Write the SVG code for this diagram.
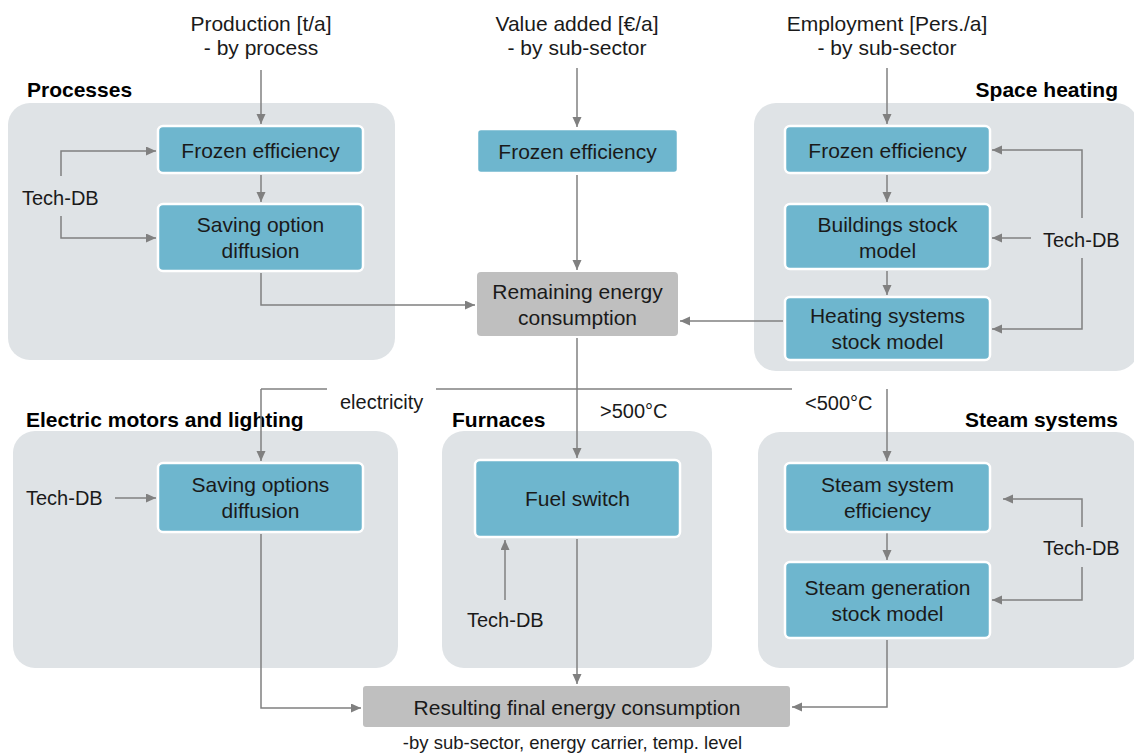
<svg xmlns="http://www.w3.org/2000/svg" width="1134" height="756" viewBox="0 0 1134 756">
<defs>
<marker id="ah" markerUnits="userSpaceOnUse" markerWidth="12" markerHeight="10" refX="10" refY="4.5" orient="auto"><path d="M0,0 L10,4.5 L0,9 z" fill="#808080"/></marker>
<style>
.panel{fill:#dfe3e6}
.box{fill:#6eb6ce;stroke:#fff;stroke-width:2.5}
.gbox{fill:#bfbfbf}
.t{font-family:"Liberation Sans",Arial,sans-serif;font-size:21px;fill:#1a1a1a;text-anchor:middle}
.tl{font-family:"Liberation Sans",Arial,sans-serif;font-size:20px;fill:#1a1a1a}
.h{font-family:"Liberation Sans",Arial,sans-serif;font-size:21px;font-weight:bold;fill:#000}
.s{font-family:"Liberation Sans",Arial,sans-serif;font-size:18.5px;fill:#1a1a1a;text-anchor:middle}
.c{fill:none;stroke:#808080;stroke-width:1.5}
.a{marker-end:url(#ah)}
</style>
</defs>
<rect width="1134" height="756" fill="#fff"/>
<g id="panel-processes"><rect class="panel" x="8" y="103" width="387" height="257" rx="22"/><text class="h" x="27" y="97">Processes</text></g>
<g id="panel-space-heating"><rect class="panel" x="754" y="103" width="384" height="268" rx="22"/><text class="h" x="1118" y="97" text-anchor="end">Space heating</text></g>
<g id="panel-electric"><rect class="panel" x="13" y="431" width="385" height="237" rx="22"/><text class="h" x="26" y="427">Electric motors and lighting</text></g>
<g id="panel-furnaces"><rect class="panel" x="442" y="431" width="270" height="237" rx="22"/><text class="h" x="452" y="427">Furnaces</text></g>
<g id="panel-steam"><rect class="panel" x="758" y="432" width="380" height="236" rx="22"/><text class="h" x="1118" y="427" text-anchor="end">Steam systems</text></g>

<g id="connectors">
<path class="c a" d="M261,70 V124"/>
<path class="c a" d="M261,175 V202"/>
<path class="c a" d="M61,176 V151 H156"/>
<path class="c a" d="M61,216 V238 H156"/>
<path class="c a" d="M261,273 V305 H475"/>
<path class="c a" d="M577,68 V127"/>
<path class="c a" d="M577,175 V270"/>
<path class="c a" d="M887,68 V124"/>
<path class="c a" d="M887,175 V202"/>
<path class="c a" d="M887,271 V295"/>
<path class="c a" d="M1082,218 V150 H992"/>
<path class="c a" d="M1082,258 V329 H992"/>
<path class="c a" d="M1031,238 H992"/>
<path class="c a" d="M783,321 H680"/>
<path class="c a" d="M577,338 V458"/>
<path class="c" d="M327,389 H261"/>
<path class="c a" d="M261,389 V461"/>
<path class="c" d="M436,389 H792"/>
<path class="c a" d="M887,389 V461"/>
<path class="c a" d="M115,498 H156"/>
<path class="c a" d="M261,534 V708 H361"/>
<path class="c a" d="M505,600 V540"/>
<path class="c a" d="M577,539 V684"/>
<path class="c a" d="M887,533 V560"/>
<path class="c a" d="M1082,527 V499 H1003"/>
<path class="c a" d="M1082,567 V600 H992"/>
<path class="c a" d="M887,640 V707 H792"/>
</g>

<g id="input-production"><text class="t" x="261" y="31">Production [t/a]</text><text class="t" x="261" y="55">- by process</text></g>
<g id="input-value-added"><text class="t" x="577" y="31">Value added [€/a]</text><text class="t" x="577" y="55">- by sub-sector</text></g>
<g id="input-employment"><text class="t" x="887" y="31">Employment [Pers./a]</text><text class="t" x="887" y="55">- by sub-sector</text></g>

<g id="p-frozen"><rect class="box" x="158" y="126" width="205" height="47" rx="5"/><text class="t" x="260.5" y="158">Frozen efficiency</text></g>
<g id="p-saving"><rect class="box" x="158" y="204" width="205" height="67" rx="5"/><text class="t" x="260.5" y="232">Saving option</text><text class="t" x="260.5" y="258">diffusion</text></g>
<g id="p-techdb"><text class="tl" x="22" y="205">Tech-DB</text></g>

<g id="m-frozen"><rect class="box" x="477" y="129" width="201" height="44" rx="4" stroke="none"/><text class="t" x="577.5" y="159">Frozen efficiency</text></g>
<g id="remaining"><rect class="gbox" x="477" y="272" width="201" height="64" rx="4"/><text class="t" x="577.5" y="299">Remaining energy</text><text class="t" x="577.5" y="325">consumption</text></g>

<g id="sh-frozen"><rect class="box" x="785" y="126" width="205" height="47" rx="5"/><text class="t" x="887.5" y="158">Frozen efficiency</text></g>
<g id="sh-buildings"><rect class="box" x="785" y="204" width="205" height="65" rx="5"/><text class="t" x="887.5" y="232">Buildings stock</text><text class="t" x="887.5" y="258">model</text></g>
<g id="sh-heating"><rect class="box" x="785" y="297" width="205" height="63" rx="5"/><text class="t" x="887.5" y="323">Heating systems</text><text class="t" x="887.5" y="349">stock model</text></g>
<g id="sh-techdb"><text class="tl" x="1043" y="247">Tech-DB</text></g>

<g id="labels-split"><text class="tl" x="340" y="409">electricity</text><text class="tl" x="600" y="418">&gt;500°C</text><text class="tl" x="805" y="410">&lt;500°C</text></g>

<g id="em-saving"><rect class="box" x="158" y="463" width="205" height="69" rx="5"/><text class="t" x="260.5" y="492">Saving options</text><text class="t" x="260.5" y="518">diffusion</text></g>
<g id="em-techdb"><text class="tl" x="26" y="505">Tech-DB</text></g>

<g id="fuel-switch"><rect class="box" x="475" y="460" width="205" height="77" rx="5"/><text class="t" x="577.5" y="506">Fuel switch</text></g>
<g id="f-techdb"><text class="tl" x="467" y="627">Tech-DB</text></g>

<g id="steam-eff"><rect class="box" x="785" y="463" width="205" height="69" rx="5"/><text class="t" x="887.5" y="492">Steam system</text><text class="t" x="887.5" y="518">efficiency</text></g>
<g id="steam-gen"><rect class="box" x="785" y="562" width="205" height="76" rx="5"/><text class="t" x="887.5" y="595">Steam generation</text><text class="t" x="887.5" y="621">stock model</text></g>
<g id="st-techdb"><text class="tl" x="1043" y="555">Tech-DB</text></g>

<g id="resulting"><rect class="gbox" x="363" y="686" width="427" height="41" rx="3"/><text class="t" x="577" y="715">Resulting final energy consumption</text><text class="s" x="572.5" y="749">-by sub-sector, energy carrier, temp. level</text></g>
</svg>
